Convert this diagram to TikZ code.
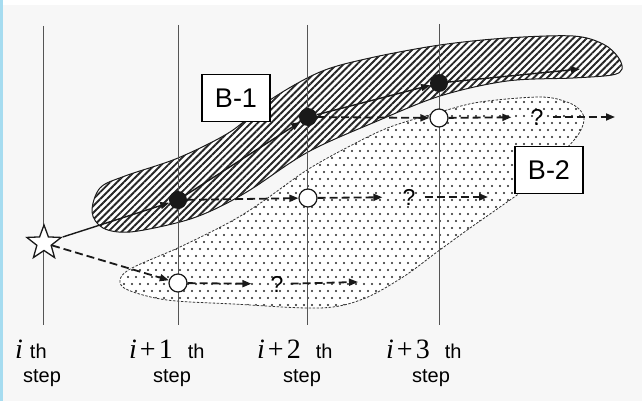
\documentclass[tikz,border=0pt]{standalone}
\usepackage{fontspec}
\setmainfont{Liberation Sans}
\newfontfamily\tms{Liberation Serif}
\usetikzlibrary{patterns.meta,shapes.geometric,arrows.meta}
\definecolor{bg}{HTML}{F7F7F7}
\definecolor{edgeblue}{HTML}{A6DCF0}
\definecolor{vline}{HTML}{555555}
\begin{document}
\begin{tikzpicture}[x=1pt,y=-1pt,
  arrowtip/.style={-{Triangle[length=9pt,width=7pt]}},
  solidarr/.style={arrowtip, line width=1.4pt, black!90},
  dasharr/.style={arrowtip, line width=1.8pt, black!90, dash pattern=on 8pt off 4pt},
  stepline/.style={vline, line width=1pt},
  bdot/.style={circle, fill=black!90, minimum size=18pt, inner sep=0pt},
  wdot/.style={circle, draw=black!90, fill=white, line width=1.2pt, minimum size=18pt, inner sep=0pt},
  qmark/.style={font=\fontsize{23}{25}\selectfont, inner sep=2pt},
  labelbox/.style={draw, line width=1.3pt, fill=white, minimum width=68pt, minimum height=47pt, inner sep=0pt, font=\fontsize{27}{29}\selectfont},
  thtext/.style={font=\fontsize{20}{22}\selectfont, anchor=base west, inner sep=0pt},
  steptext/.style={font=\fontsize{20}{22}\selectfont, anchor=base, inner sep=0pt},
  regiondot/.style={fill=black!85},
]
\def\btwopath{plot[smooth cycle, tension=0.55] coordinates {
  (120,280) (132,268) (180,247) (230,222) (262,202) (307,170) (350,146) (390,127)
  (440,112) (480,102) (540,97) (567,102) (580,110) (584,120) (578,135) (560,155)
  (530,185) (500,207) (470,228) (437,252) (403,277) (363,299) (320,308) (233,304)
  (167,300) (128,290)}}
\useasboundingbox (0,0) rectangle (642,401);
\fill[white] (0,0) rectangle (642,401);
\fill[bg] (0,5) rectangle (642,401);
\fill[edgeblue] (0,0) rectangle (2.5,401);

% B-2 dotted region
\fill[white] \btwopath;
\begin{scope}
  \clip \btwopath;
  \foreach \r in {0,...,31}{
    \pgfmathsetmacro{\yy}{95+7*\r}
    \pgfmathsetmacro{\xo}{112+4*mod(\r,2)}
    \foreach \c in {0,...,60}{
      \fill[regiondot] (\xo+8*\c,\yy) circle[radius=1.2pt];
    }
  }
\end{scope}
\draw[black!80, line width=0.8pt, dash pattern=on 2.5pt off 1.5pt] \btwopath;

% B-1 hatched region
\draw[black!90, line width=1pt,
      preaction={fill=white}, postaction={pattern={Lines[angle=45,distance=4.8pt,line width=1.9pt]}, pattern color=black!85}]
  plot[smooth cycle, tension=0.55] coordinates {
  (92,212) (100,188) (125,176) (178,158) (230,132) (270,100) (320,72) (370,58)
  (440,45) (507,38) (573,36) (603,44) (618,57) (622,69) (612,75) (573,78) (507,81)
  (440,96) (375,122) (308,152) (250,190) (213,210) (180,222) (130,232) (103,228)};

% step lines
\coordinate (t0) at (43,26);  \coordinate (b0) at (43,325);
\coordinate (t1) at (178,25); \coordinate (b1) at (178,325);
\coordinate (t2) at (307,25); \coordinate (b2) at (307,325);
\coordinate (t3) at (439,24); \coordinate (b3) at (439,325);
\draw[stepline] (t0) -- (b0);
\draw[stepline] (t1) -- (b1);
\draw[stepline] (t2) -- (b2);
\draw[stepline] (t3) -- (b3);

% nodes
\node[star, star points=5, star point ratio=2.4, minimum size=36pt, inner sep=0pt,
      draw=black!90, fill=white, line width=1.3pt] (st) at (44,243) {};
\node[bdot] (d1) at (178,200) {};
\node[bdot] (d2) at (308,117) {};
\node[bdot] (d3) at (439,83) {};
\node[wdot] (c1) at (178,283) {};
\node[wdot] (c2) at (308,198) {};
\node[wdot] (c3) at (439,118) {};
\node[qmark] (q1) at (277,284) {?};
\node[qmark] (q2) at (409,197) {?};
\node[qmark] (q3) at (537,117) {?};
\coordinate (e0) at (580,69);
\coordinate (e1) at (358,282);
\coordinate (e2) at (488,197);
\coordinate (e3) at (615,117);

% solid path
\draw[solidarr] (st) -- (d1);
\draw[solidarr] (d1) -- (d2);
\draw[solidarr] (d2) -- (d3);
\draw[solidarr] (d3) -- (e0);

% dashed paths
\draw[dasharr] (st) -- (c1);
\draw[dasharr] (d1) -- (c2);
\draw[dasharr] (d2) -- (c3);
\draw[dasharr, shorten >=17pt] (c1) -- (q1);
\draw[dasharr, shorten <=5pt] (q1) -- (e1);
\draw[dasharr, shorten >=18pt] (c2) -- (q2);
\draw[dasharr, shorten <=7pt] (q2) -- (e2);
\draw[dasharr, shorten >=17pt] (c3) -- (q3);
\draw[dasharr, shorten <=7pt] (q3) -- (e3);

% label boxes
\node[labelbox] (B1) at (236,98) {B-1};
\node[labelbox] (B2) at (549,170) {B-2};

% step labels
\node[thtext] (l0) at (15,358) {{\tms\fontsize{28}{29}\selectfont\itshape i}\hspace{7pt}th};
\node[thtext] (l1) at (129,358) {{\tms\fontsize{28}{29}\selectfont\textit{i}\hspace{3pt}+\hspace{3pt}1}\hspace{15pt}th};
\node[thtext] (l2) at (257,358) {{\tms\fontsize{28}{29}\selectfont\textit{i}\hspace{3pt}+\hspace{3pt}2}\hspace{15pt}th};
\node[thtext] (l3) at (386,358) {{\tms\fontsize{28}{29}\selectfont\textit{i}\hspace{3pt}+\hspace{3pt}3}\hspace{15pt}th};
\node[steptext] (s0) at (42,382) {step};
\node[steptext] (s1) at (172,382) {step};
\node[steptext] (s2) at (302,382) {step};
\node[steptext] (s3) at (431,382) {step};
\end{tikzpicture}
\end{document}
